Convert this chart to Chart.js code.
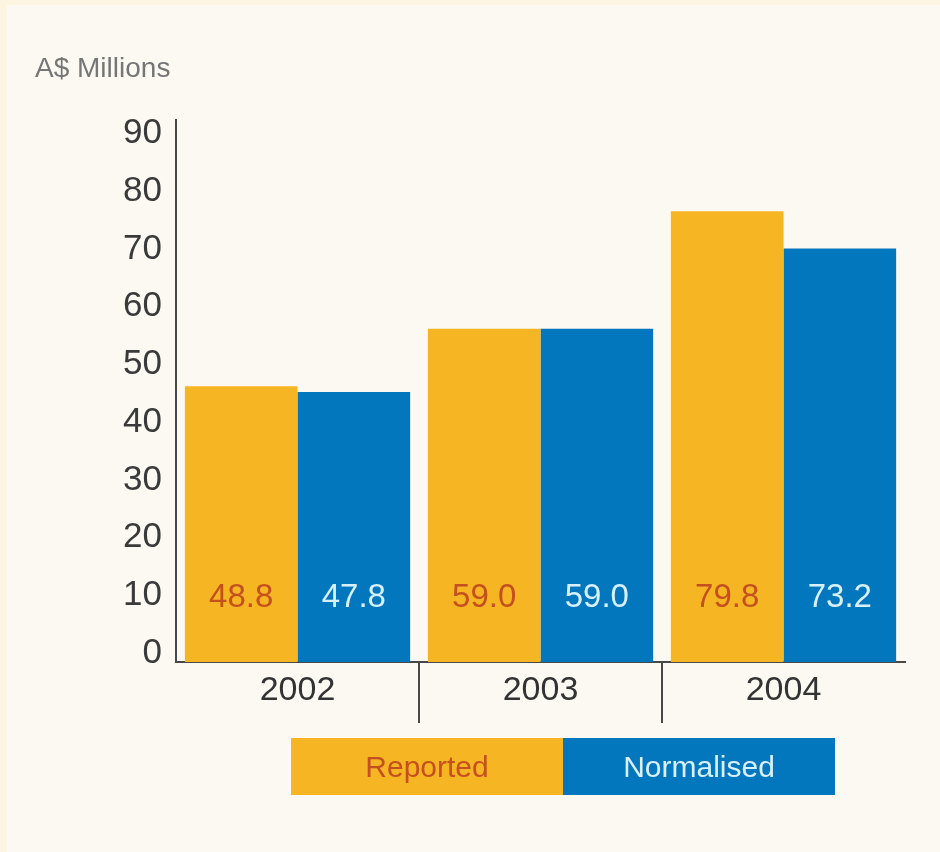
<!DOCTYPE html>
<html>
<head>
<meta charset="utf-8">
<script src="https://cdn.jsdelivr.net/npm/chart.js@4/dist/chart.umd.min.js"></script>
<style>
  html, body { margin: 0; padding: 0; background: #fcf9f2; }
  #wrap { width: 940px; height: 852px; position: relative; background: #fcf9f2;
          box-shadow: inset 7px 5px 0 0 #fdf4e2; }
  canvas { position: absolute; left: 0; top: 0; }
</style>
</head>
<body>
<div id="wrap"><canvas id="c" width="940" height="852"></canvas></div>
<script>
// Earnings by year, A$ millions
const years = ['2002', '2003', '2004'];
const reported = [48.8, 59.0, 79.8];
const normalised = [47.8, 59.0, 73.2];
const yTicks = [0, 10, 20, 30, 40, 50, 60, 70, 80, 90];

const ORANGE = '#f6b523';
const BLUE = '#0277bd';
const ORANGE_TEXT = '#c4501f';
const BLUE_TEXT = '#d8f0fb';
const AXIS = '#484848';
const FONT = "'Liberation Sans', Arial, sans-serif";

const textColors = [ORANGE_TEXT, BLUE_TEXT];

// Value printed near the foot of each bar
const valueLabels = {
  id: 'valueLabels',
  afterDatasetsDraw(chart) {
    const ctx = chart.ctx;
    ctx.save();
    ctx.font = '33px ' + FONT;
    ctx.textAlign = 'center';
    ctx.textBaseline = 'middle';
    chart.data.datasets.forEach((ds, di) => {
      const meta = chart.getDatasetMeta(di);
      meta.data.forEach((bar, i) => {
        ctx.fillStyle = textColors[di];
        ctx.fillText(ds.data[i].toFixed(1), bar.x, chart.chartArea.bottom - 64);
      });
    });
    ctx.restore();
  }
};

// Two-cell colour key under the chart
const keyBar = {
  id: 'keyBar',
  afterDraw(chart) {
    const ctx = chart.ctx;
    const left = 291, top = 738, cellW = 272, cellH = 57;
    ctx.save();
    ctx.font = '30px ' + FONT;
    ctx.textAlign = 'center';
    ctx.textBaseline = 'middle';
    chart.data.datasets.forEach((ds, di) => {
      const x = left + di * cellW;
      ctx.fillStyle = ds.backgroundColor;
      ctx.fillRect(x, top, cellW, cellH);
      ctx.fillStyle = textColors[di];
      ctx.fillText(ds.label, x + cellW / 2, top + cellH / 2 + 2);
    });
    ctx.restore();
  }
};

new Chart(document.getElementById('c'), {
  type: 'bar',
  data: {
    labels: years,
    datasets: [
      { label: 'Reported', data: reported, backgroundColor: ORANGE, yAxisID: 'yBars',
        categoryPercentage: 0.927, barPercentage: 1.0 },
      { label: 'Normalised', data: normalised, backgroundColor: BLUE, yAxisID: 'yBars',
        categoryPercentage: 0.927, barPercentage: 1.0 }
    ]
  },
  options: {
    responsive: false,
    animation: false,
    layout: { padding: { left: 35, right: 35, top: 0, bottom: 0 } },
    plugins: {
      legend: { display: false },
      tooltip: { enabled: false },
      title: {
        display: true,
        text: 'A$ Millions',
        align: 'start',
        color: '#767676',
        font: { family: FONT, size: 28, weight: 'normal' },
        padding: { top: 52, bottom: 34 }
      }
    },
    scales: {
      x: {
        type: 'category',
        offset: true,
        grid: {
          offset: true,
          drawOnChartArea: false,
          drawTicks: true,
          tickLength: 61,
          lineWidth: 2,
          color: (c) => (c.index === 1 || c.index === 2) ? AXIS : 'rgba(0,0,0,0)'
        },
        border: { display: true, color: AXIS, width: 2 },
        ticks: {
          color: '#333333',
          font: { family: FONT, size: 34 },
          padding: -53
        },
        afterFit: (s) => { s.height = 190; }
      },
      y: {
        position: 'left',
        min: -1.56,
        max: 92.43,
        afterBuildTicks: (s) => { s.ticks = yTicks.map(v => ({ value: v })); },
        grid: { display: false, drawTicks: false },
        border: { display: true, color: AXIS, width: 2 },
        ticks: {
          color: '#3a3a3a',
          font: { family: FONT, size: 35 },
          padding: 14
        },
        afterFit: (s) => { s.width = 141; }
      },
      yBars: {
        display: false,
        min: 0,
        max: 96
      }
    }
  },
  plugins: [valueLabels, keyBar]
});
</script>
</body>
</html>
